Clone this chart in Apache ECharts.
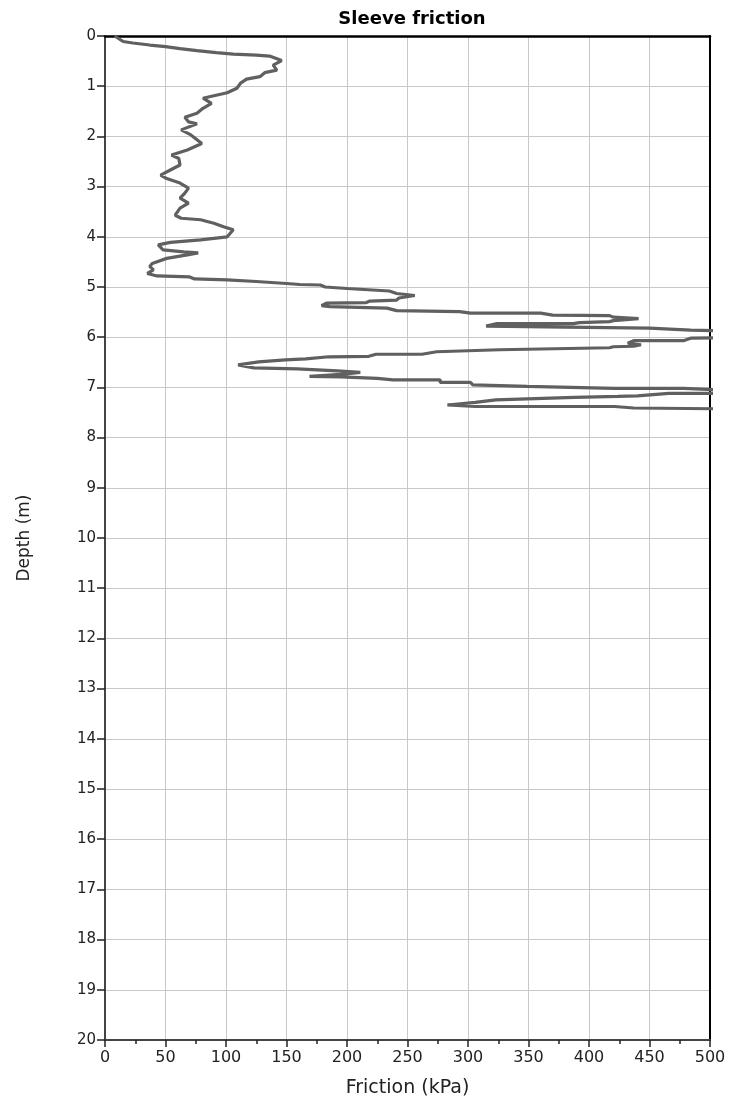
<!DOCTYPE html>
<html>
<head>
<meta charset="utf-8">
<script src="https://cdn.jsdelivr.net/npm/echarts@6/dist/echarts.min.js"></script>
<style>html,body{margin:0;padding:0;background:#fff;}#chart{width:731px;height:1108px;}</style>
</head>
<body>
<div id="chart"></div>
<script>
const titleText = 'Sleeve friction';
const xAxisName = 'Friction (kPa)';
const yAxisName = 'Depth (m)';
const xTicks = [0, 50, 100, 150, 200, 250, 300, 350, 400, 450, 500];
const yTicks = [0,1,2,3,4,5,6,7,8,9,10,11,12,13,14,15,16,17,18,19,20];

const friction = [8,15,23,37,50,62,76,92,106,125,136,146,139,142,132,128,117,112,109,101,90,81,88,81,76,66,69,76,63,71,80,68,55,61,62,54,46,51,62,69,66,62,69,62,58,63,79,90,98,106,101,79,54,44,48,65,77,68,51,39,37,40,35,43,70,74,101,125,150,161,178,182,200,235,241,256,243,241,219,216,183,179,186,233,241,293,302,360,370,417,420,441,420,417,392,387,324,315,381,450,484,520,540,520,484,478,437,432,443,437,420,417,326,274,262,224,218,185,166,149,127,110,123,159,192,211,195,169,195,225,238,277,277,302,304,349,421,478,479,520,540,520,466,440,424,388,323,306,283,306,421,437,520];
const depth = [0.00,0.11,0.14,0.18,0.21,0.25,0.29,0.33,0.36,0.38,0.40,0.49,0.58,0.68,0.73,0.81,0.86,0.94,1.04,1.13,1.19,1.24,1.34,1.44,1.54,1.62,1.71,1.75,1.87,1.97,2.14,2.27,2.37,2.44,2.57,2.67,2.77,2.84,2.93,3.03,3.13,3.23,3.33,3.43,3.57,3.63,3.66,3.73,3.80,3.86,4.00,4.06,4.11,4.16,4.26,4.30,4.32,4.36,4.43,4.53,4.59,4.66,4.73,4.78,4.80,4.84,4.86,4.89,4.93,4.95,4.96,5.00,5.03,5.08,5.13,5.17,5.22,5.26,5.28,5.31,5.32,5.37,5.39,5.42,5.47,5.49,5.52,5.52,5.56,5.57,5.60,5.63,5.67,5.69,5.71,5.73,5.73,5.78,5.80,5.82,5.86,5.88,5.95,6.01,6.02,6.07,6.07,6.12,6.15,6.18,6.19,6.21,6.25,6.29,6.34,6.34,6.38,6.39,6.43,6.45,6.49,6.55,6.61,6.63,6.67,6.70,6.74,6.78,6.79,6.82,6.85,6.85,6.90,6.90,6.95,6.98,7.02,7.02,7.05,7.06,7.09,7.12,7.12,7.17,7.18,7.20,7.25,7.30,7.35,7.38,7.38,7.41,7.43];

const data = friction.map((f, i) => [f, depth[i]]);
const font = 'DejaVu Sans, Verdana, sans-serif';

const chart = echarts.init(document.getElementById('chart'), null, {renderer: 'canvas'});
chart.setOption({
  animation: false,
  backgroundColor: '#ffffff',
  title: {
    text: titleText, left: 407, top: 5, textAlign: 'center',
    textStyle: {fontFamily: font, fontSize: 18, fontWeight: 'bold', color: '#000'}
  },
  grid: {left: 105, right: 21, top: 36, bottom: 68, containLabel: false},
  xAxis: [{
    type: 'value', min: xTicks[0], max: xTicks[xTicks.length-1], interval: 50,
    position: 'bottom',
    name: xAxisName, nameLocation: 'middle', nameGap: 39,
    nameTextStyle: {fontFamily: font, fontSize: 19, color: '#222'},
    axisLine: {show: true, onZero: false, lineStyle: {color: '#444', width: 2}},
    axisTick: {show: true, length: 7, lineStyle: {color: '#222', width: 1.5}},
    minorTick: {show: true, splitNumber: 2, length: 4, lineStyle: {color: '#222', width: 1.5}},
    axisLabel: {fontFamily: font, fontSize: 16, color: '#222', margin: 10},
    splitLine: {show: true, lineStyle: {color: '#c8c8c8', width: 1}}
  }, {
    type: 'value', min: 0, max: 500, position: 'top',
    axisLine: {show: true, onZero: false, lineStyle: {color: '#000', width: 2.5}},
    axisTick: {show: false}, axisLabel: {show: false}, splitLine: {show: false}
  }],
  yAxis: [{
    type: 'value', inverse: true, min: yTicks[0], max: yTicks[yTicks.length-1], interval: 1,
    name: yAxisName, nameLocation: 'middle', nameGap: 72, nameRotate: 90,
    nameTextStyle: {fontFamily: font, fontSize: 17, color: '#222'},
    axisLine: {show: true, onZero: false, lineStyle: {color: '#444', width: 2}},
    axisTick: {show: true, length: 8, lineStyle: {color: '#222', width: 1.5}},
    axisLabel: {fontFamily: font, fontSize: 15, color: '#222', margin: 9},
    splitLine: {show: true, lineStyle: {color: '#c8c8c8', width: 1}}
  }, {
    type: 'value', inverse: true, min: 0, max: 20, position: 'right',
    axisLine: {show: true, onZero: false, lineStyle: {color: '#000', width: 2}},
    axisTick: {show: false}, axisLabel: {show: false}, splitLine: {show: false}
  }],
  series: [{
    type: 'line', data: data, xAxisIndex: 0, yAxisIndex: 0,
    showSymbol: false, symbol: 'none', clip: true,
    lineStyle: {color: '#606060', width: 3.2}
  }]
});
</script>
</body>
</html>
